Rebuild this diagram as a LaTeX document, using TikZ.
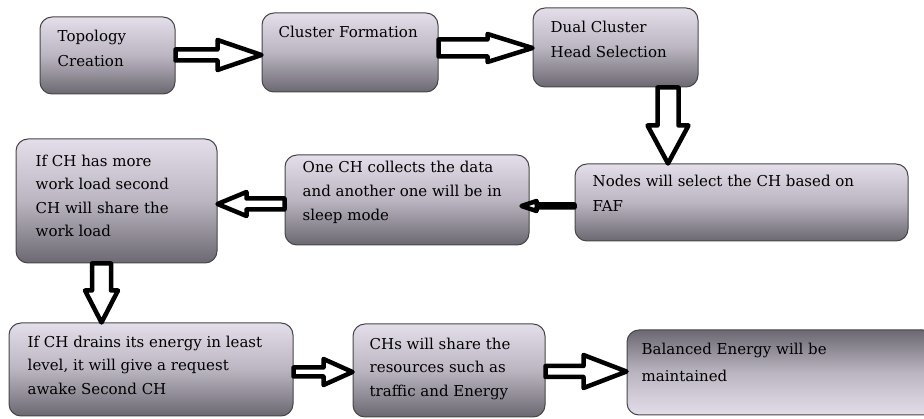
\documentclass[tikz,border=0pt]{standalone}
\usepackage{fontspec}
\setmainfont{DejaVu Serif}
\usetikzlibrary{calc}

\definecolor{boxtop}{RGB}{228,222,234}
\definecolor{boxmid}{RGB}{186,181,192}
\definecolor{boxbot}{RGB}{108,104,114}
\definecolor{boxedge}{RGB}{70,70,70}

\tikzset{
  flowbox/.style={draw=boxedge, line width=1pt, rounded corners=12pt,
    top color=boxtop, bottom color=boxbot, middle color=boxmid, inner sep=0pt},
  flowboxrev/.style={flowbox, top color=boxbot, bottom color=boxtop, middle color=boxmid},
  boxtext/.style={anchor=base west, inner sep=0pt, font=\fontsize{15}{24}\selectfont},
  blockarrow/.style={draw=black, fill=white, line width=4.5pt, line join=round},
}

% left-aligned stack of lines whose baseline is the first line
\newcommand\textlines[1]{\begin{tabular}[t]{@{}l@{}}#1\end{tabular}}

% hollow block arrow: #1 tail, #2 tip, #3 shaft half width, #4 head half width, #5 head length
\newcommand\blockarrowdraw[5]{%
  \coordinate (ba-h) at ($(#2)!#5!(#1)$);
  \draw[blockarrow] ($(#1)!#3!90:(#2)$) -- ($(ba-h)!#3!90:(#2)$)
    -- ($(ba-h)!#4!90:(#2)$) -- (#2) -- ($(ba-h)!#4!-90:(#2)$)
    -- ($(ba-h)!#3!-90:(#2)$) -- ($(#1)!#3!-90:(#2)$) -- cycle;
}

\begin{document}
\begin{tikzpicture}[x=1pt, y=-1pt]
  \useasboundingbox (0,0) rectangle (924,419);
  \clip (0,0) rectangle (924,419);

  % process boxes
  \node[flowbox, minimum width=135pt, minimum height=77pt] (b1) at (107.5,55.5) {};
  \node[flowbox, minimum width=176pt, minimum height=79pt] (b2) at (350,52.5) {};
  \node[flowbox, minimum width=165pt, minimum height=79pt] (b3) at (615.5,47.5) {};
  \node[flowbox, minimum width=333pt, minimum height=77pt] (b4) at (741.5,202.5) {};
  \node[flowbox, minimum width=244pt, minimum height=90pt] (b5) at (407,200) {};
  \node[flowbox, minimum width=201pt, minimum height=124pt] (b6) at (116.5,201) {};
  \node[flowbox, minimum width=284pt, minimum height=93pt] (b7) at (151,369.5) {};
  \node[flowbox, minimum width=192pt, minimum height=93pt] (b8) at (449,370.5) {};
  \node[flowboxrev, minimum width=308pt, minimum height=85pt] (b9) at (781,372.5) {};

  % box texts
  \node[boxtext, font=\fontsize{15}{25}\selectfont] (t1) at ($(b1.north west)+(18,25)$)
    {\textlines{Topology\\Creation}};
  \node[boxtext] (t2) at ($(b2.north west)+(17,25)$) {\textlines{Cluster Formation}};
  \node[boxtext, font=\fontsize{15}{25}\selectfont] (t3) at ($(b3.north west)+(18,25)$)
    {\textlines{Dual Cluster\\Head Selection}};
  \node[boxtext, font=\fontsize{15}{25}\selectfont] (t4) at ($(b4.north west)+(18,23)$)
    {\textlines{Nodes will select the CH based on\\FAF}};
  \node[boxtext] (t5) at ($(b5.north west)+(18,18)$)
    {\textlines{One CH collects the data\\and another one will be in\\sleep mode}};
  \node[boxtext, font=\fontsize{15}{23.3}\selectfont] (t6) at ($(b6.north west)+(20,28)$)
    {\textlines{If CH has more\\work load second\\CH will share the\\work load}};
  \node[boxtext, font=\fontsize{15}{23.5}\selectfont] (t7) at ($(b7.north west)+(19,25)$)
    {\textlines{If CH drains its energy in least\\level, it will give a request\\awake Second CH}};
  \node[boxtext, font=\fontsize{15}{23.5}\selectfont] (t8) at ($(b8.north west)+(17,26)$)
    {\textlines{CHs will share the\\resources such as\\traffic and Energy}};
  \node[boxtext, font=\fontsize{15}{27}\selectfont] (t9) at ($(b9.north west)+(15,25)$)
    {\textlines{Balanced Energy will be\\maintained}};

  % arrow end points on the box borders
  \coordinate (a12s) at (b1.east |- 0,55);   \coordinate (a12e) at (b2.west |- a12s);
  \coordinate (a23s) at (b2.east |- 0,48);   \coordinate (a23e) at (b3.west |- a23s);
  \coordinate (a34s) at (b3.south -| 668,0); \coordinate (a34e) at (b4.north -| a34s);
  \coordinate (a45s) at (b4.west |- 0,206);  \coordinate (a45e) at ($(b5.east |- a45s)+(-8,0)$);
  \coordinate (a56s) at (b5.west |- 0,204);  \coordinate (a56e) at (b6.east |- a56s);
  \coordinate (a67s) at (b6.south -| 101.5,0); \coordinate (a67e) at (b7.north -| a67s);
  \coordinate (a78s) at (b7.east |- 0,372);  \coordinate (a78e) at (b8.west |- a78s);
  \coordinate (a89s) at (b8.east |- 0,371.5); \coordinate (a89e) at (b9.west |- a89s);

  % connectors
  \blockarrowdraw{a12s}{a12e}{5.5pt}{15pt}{44pt}
  \blockarrowdraw{a23s}{a23e}{8.5pt}{14pt}{45pt}
  \blockarrowdraw{a34s}{a34e}{10.5pt}{20.5pt}{38pt}
  \blockarrowdraw{a45s}{a45e}{1.5pt}{5pt}{15pt}
  \blockarrowdraw{a56s}{a56e}{5.5pt}{12pt}{29pt}
  \blockarrowdraw{a67s}{a67e}{9.5pt}{16.5pt}{32pt}
  \blockarrowdraw{a78s}{a78e}{4.5pt}{13pt}{29pt}
  \blockarrowdraw{a89s}{a89e}{5.5pt}{16.5pt}{43pt}
\end{tikzpicture}
\end{document}
